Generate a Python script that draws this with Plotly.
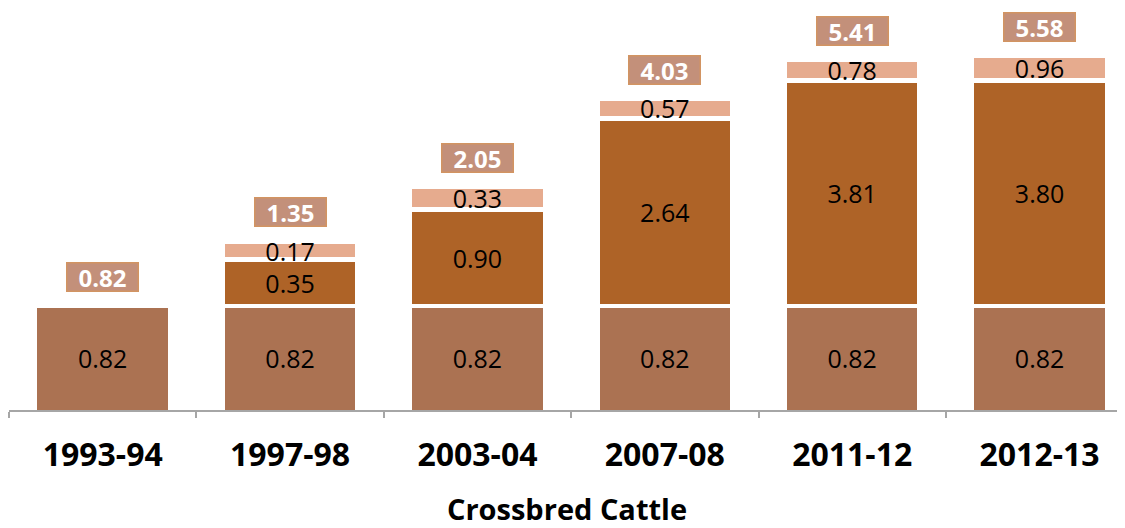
import numpy as np
import plotly.graph_objects as go

categories = ["1993-94", "1997-98", "2003-04", "2007-08", "2011-12", "2012-13"]
base_vals = [0.82, 0.82, 0.82, 0.82, 0.82, 0.82]
mid_vals = [None, 0.35, 0.90, 2.64, 3.81, 3.80]
top_vals = [None, 0.17, 0.33, 0.57, 0.78, 0.96]
totals = [0.82, 1.35, 2.05, 4.03, 5.41, 5.58]
axis_title = "Crossbred Cattle"

c_base = "#AB7252"
c_mid = "#AE6327"
c_top = "#E6AB8E"
c_box = "#C3907A"
c_box_border = "#D29462"

FONT = "Open Sans"
K = 300.0      # px per decade
R0 = -0.433    # log10 of axis bottom
PLOT_H = 390.0

fig = go.Figure()
for vals, col in [(base_vals, c_base), (mid_vals, c_mid), (top_vals, c_top)]:
    fig.add_trace(go.Bar(
        x=categories, y=vals,
        marker=dict(color=col, line=dict(color="white", width=4.5)),
        texttemplate="%{y:.2f}", textposition="inside", insidetextanchor="middle",
        textangle=0,
        textfont=dict(family=FONT, size=25, color="black"),
        hoverinfo="skip",
    ))

for cat, tot in zip(categories, totals):
    fig.add_annotation(
        x=cat, y=np.log10(tot), xref="x", yref="y",
        text=f"<b>{tot:.2f}</b>", showarrow=False,
        yanchor="bottom", yshift=14,
        font=dict(family=FONT, size=24, color="white"),
        bgcolor=c_box, bordercolor=c_box_border, borderwidth=1.5, borderpad=0,
        width=70, height=27,
    )

# page body has an 8px default margin, so the figure is sized/margined to compensate
fig.update_layout(
    width=1117, height=520,
    margin=dict(l=1, r=0, t=12, b=118),
    barmode="stack", bargap=0.28,
    showlegend=False,
    plot_bgcolor="white", paper_bgcolor="white",
    uniformtext=dict(minsize=21, mode="show"),
    xaxis=dict(
        type="category", range=[-0.5, 5.456], automargin=False,
        showline=True, linecolor="#A6A6A6", linewidth=1.5,
        ticks="outside", tickson="boundaries", ticklen=6, tickcolor="#A6A6A6", tickwidth=1.5,
        tickfont=dict(family=FONT, size=32, color="black", weight="bold"),
        ticklabelstandoff=16,
        showgrid=False,
        title=dict(text=f"<b>{axis_title}</b>", font=dict(family=FONT, size=29, color="black"), standoff=28),
    ),
    yaxis=dict(
        type="log", range=[R0, R0 + PLOT_H / K], automargin=False,
        visible=False, showgrid=False,
    ),
)

fig.write_html("out.html")
